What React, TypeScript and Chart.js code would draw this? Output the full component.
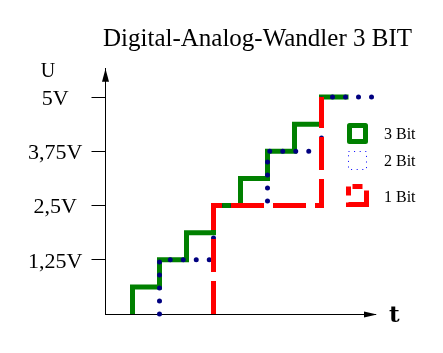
import React, { useEffect, useRef } from "react";
import { Chart, registerables } from "chart.js";

Chart.register(...registerables);

const TITLE = "Digital-Analog-Wandler 3 BIT";
const Y_TITLE = "U";
const X_TITLE = "t";

// 3-bit converter output (vertical step at each time, then hold)
const bit3Time = [1, 2, 3, 4, 5, 6, 7, 8, 9];
const bit3Volt = [0, 0.625, 1.25, 1.875, 2.5, 3.125, 3.75, 4.375, 5];
// 2-bit converter output
const bit2Time = [2, 4, 6, 8, 9.9];
const bit2Volt = [0, 1.25, 2.5, 3.75, 5];
// 1-bit converter output
const bit1Time = [4, 8, 8];
const bit1Volt = [0, 2.5, 5];

const yTickValues = [1.25, 2.5, 3.75, 5];
const yTickLabels = ["1,25V", "2,5V", "3,75V", "5V"];
const seriesLabels = ["3 Bit", "2 Bit", "1 Bit"];

const SERIF = '"Liberation Serif", "Times New Roman", serif';

const toPoints = (xs: number[], ys: number[]) => xs.map((x, i) => ({ x, y: ys[i] }));

const annotationPlugin = {
  id: "annotations",
  afterDraw(chart: any) {
    const ctx: CanvasRenderingContext2D = chart.ctx;
    const { left, top, bottom, right } = chart.chartArea;
    const ax = Math.round(left - 0.5) + 0.5;
    const ay = Math.round(bottom - 0.5) + 0.5;
    ctx.save();
    ctx.fillStyle = "#000";
    // axis arrowheads
    ctx.beginPath();
    ctx.moveTo(ax, top);
    ctx.lineTo(ax - 3.5, top + 13);
    ctx.lineTo(ax + 3.5, top + 13);
    ctx.closePath();
    ctx.fill();
    ctx.beginPath();
    ctx.moveTo(right + 1.5, ay);
    ctx.lineTo(right - 11.5, ay - 3);
    ctx.lineTo(right - 11.5, ay + 3);
    ctx.closePath();
    ctx.fill();

    // title and axis names
    ctx.textBaseline = "alphabetic";
    ctx.textAlign = "center";
    ctx.font = `25px ${SERIF}`;
    ctx.fillText(TITLE, 257.5, 46);
    ctx.font = `20px ${SERIF}`;
    ctx.fillText(Y_TITLE, 48, 77);
    ctx.textAlign = "left";
    ctx.font = `bold 23px "DejaVu Serif", ${SERIF}`;
    ctx.fillText(X_TITLE, 389, 322);

    // legend
    const ds = chart.data.datasets;
    ctx.lineCap = "butt";
    // 3 Bit
    ctx.strokeStyle = ds[0].borderColor;
    ctx.lineWidth = 5;
    ctx.lineJoin = "round";
    ctx.setLineDash([]);
    ctx.strokeRect(349.5, 125.5, 16, 16);
    // 2 Bit
    ctx.strokeStyle = "#0000ff";
    ctx.lineWidth = 1;
    ctx.lineJoin = "miter";
    ctx.setLineDash([1, 4.6]);
    ctx.strokeRect(348.5, 151.5, 18, 18);
    // 1 Bit
    ctx.strokeStyle = ds[2].borderColor;
    ctx.lineWidth = 5;
    ctx.setLineDash([10, 8, 34, 7, 9, 4]);
    ctx.lineDashOffset = 68;
    ctx.strokeRect(348.5, 186.5, 18, 18);
    ctx.setLineDash([]);
    ctx.lineDashOffset = 0;

    ctx.fillStyle = "#000";
    ctx.font = `16px ${SERIF}`;
    ctx.textAlign = "left";
    const baselines = [139, 166, 202];
    ds.forEach((d: any, i: number) => ctx.fillText(d.label, 384, baselines[i]));
    ctx.restore();
  },
};

export default function App() {
  const ref = useRef<HTMLCanvasElement | null>(null);
  useEffect(() => {
    if (!ref.current) return;
    const chart = new Chart(ref.current, {
      type: "line",
      data: {
        datasets: [
          {
            label: seriesLabels[0],
            data: toPoints(bit3Time, bit3Volt),
            borderColor: "#008000",
            borderWidth: 5,
            borderCapStyle: "butt",
            stepped: "after",
            pointRadius: 0,
            fill: false,
            order: 3,
            clip: false,
          },
          {
            label: seriesLabels[1],
            data: toPoints(bit2Time, bit2Volt),
            borderColor: "#000080",
            borderWidth: 5,
            borderCapStyle: "round",
            borderDash: [0, 13],
            stepped: "after",
            pointRadius: 0,
            fill: false,
            order: 2,
            clip: false,
          },
          {
            label: seriesLabels[2],
            data: toPoints(bit1Time, bit1Volt),
            borderColor: "#ff0000",
            borderWidth: 5,
            borderCapStyle: "butt",
            borderDash: [33, 9],
            stepped: "after",
            pointRadius: 0,
            fill: false,
            order: 1,
            clip: false,
          },
        ] as any,
      },
      options: {
        animation: false,
        responsive: false,
        devicePixelRatio: 1,
        layout: { padding: { left: 0, right: 67.5, top: 68.8, bottom: 0 } },
        plugins: {
          legend: { display: false },
          title: { display: false },
          tooltip: { enabled: false },
        },
        scales: {
          x: {
            type: "linear",
            min: 0,
            max: 10,
            ticks: { display: false },
            grid: { display: false },
            border: { display: true, color: "#000", width: 1 },
            afterFit: (s: any) => {
              s.height = 39;
            },
          },
          y: {
            type: "linear",
            min: 0,
            max: 5.65,
            afterBuildTicks: (s: any) => {
              s.ticks = yTickValues.map((v) => ({ value: v }));
            },
            afterFit: (s: any) => {
              s.width = 105.5;
            },
            ticks: {
              autoSkip: false,
              color: "#000",
              font: { family: SERIF, size: 22 },
              padding: 9,
              crossAlign: "center",
              labelOffset: 2,
              callback: (v: any) => {
                const i = yTickValues.indexOf(Number(v));
                return i >= 0 ? yTickLabels[i] : "";
              },
            },
            grid: {
              display: true,
              drawOnChartArea: false,
              drawTicks: true,
              tickLength: 14,
              color: "#000",
              lineWidth: 1,
            },
            border: { display: true, color: "#000", width: 1 },
          },
        },
      } as any,
      plugins: [annotationPlugin],
    });
    return () => chart.destroy();
  }, []);
  return (
    <div style={{ position: "fixed", left: 0, top: 0, width: 443, height: 353, background: "#fff" }}>
      <canvas ref={ref} width={443} height={353} style={{ display: "block", width: 443, height: 353 }} />
    </div>
  );
}
